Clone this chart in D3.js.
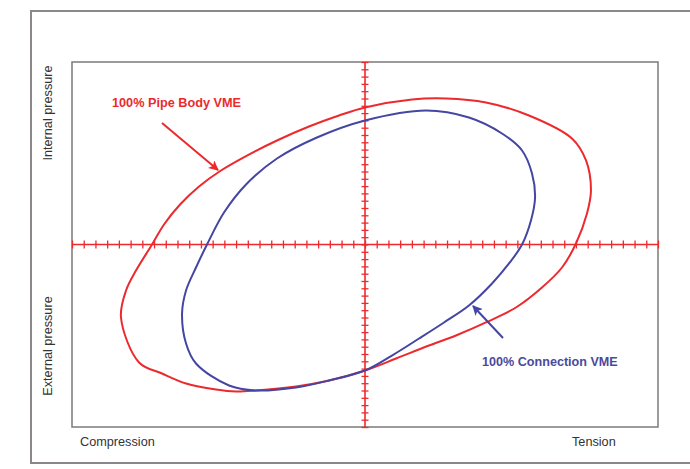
<!DOCTYPE html>
<html>
<head>
<meta charset="utf-8">
<script src="https://cdn.jsdelivr.net/npm/d3@7"></script>
<style>
  body { margin: 0; background: #fff; }
  svg { display: block; font-family: "Liberation Sans", Arial, sans-serif; }
</style>
</head>
<body>
<div id="container"></div>
<script>
// axis range in "units" (one tick = one unit)
const xDomain = [-25, 25];
const yDomain = [-25, 25];

// 100% Pipe Body VME envelope (x = axial load, y = pressure)
const pipeBodyX = [-18.17, -17.15, -15.78, -14.16, -12.29, -10.07, -7.51, -4.78, -2.22, 0, 4.01, 6.91, 10.32, 13.99, 17.66, 18.86, 19.28, 18.94, 18.0, 16.81, 15.1, 12.88, 10.32, 7.76, 5.46, 2.65, 0, -3.07, -5.89, -9.3, -11.01, -12.71, -15.27, -17.32, -19.28, -20.82, -20.39, -19.54];
const pipeBodyY = [0, 2.74, 5.48, 7.95, 10.14, 12.19, 14.25, 16.16, 17.67, 18.77, 19.86, 20.0, 19.45, 17.67, 14.52, 11.51, 7.4, 4.25, 0.14, -3.15, -5.89, -8.63, -10.68, -12.47, -13.84, -15.62, -17.26, -18.63, -19.45, -20.0, -20.14, -19.86, -19.04, -17.67, -16.16, -10.0, -6.3, -3.56];

// 100% Connection VME envelope
const connX = [-13.48, -12.03, -10.15, -7.51, -4.1, 0, 5.2, 8.87, 11.69, 13.4, 14.25, 14.51, 14.16, 13.4, 12.29, 10.84, 8.87, 6.74, 4.61, 2.3, 0, -3.07, -5.89, -9.3, -11.6, -14.42, -15.27, -15.61, -15.27, -14.42];
const connY = [0, 4.38, 8.22, 11.78, 14.66, 16.99, 18.36, 17.4, 15.21, 12.88, 9.73, 6.44, 3.29, 0, -2.6, -5.34, -8.36, -10.68, -12.88, -15.21, -17.26, -18.63, -19.59, -20.0, -19.32, -16.3, -13.56, -9.45, -6.3, -3.15];

const labels = {
  pipe: "100% Pipe Body VME",
  conn: "100% Connection VME",
  internal: "Internal pressure",
  external: "External pressure",
  compression: "Compression",
  tension: "Tension"
};

const W = 690, H = 469;
const box = { left: 72, top: 62, right: 658, bottom: 427 };
const red = "#ec2a2e", blue = "#4545a3";

const svg = d3.select("#container").append("svg")
  .attr("width", W).attr("height", H);

const x = d3.scaleLinear().domain(xDomain).range([box.left, box.right]);
const y = d3.scaleLinear().domain(yDomain).range([box.bottom, box.top]);

// outer page frame
svg.append("path")
  .attr("d", `M${W + 5},11 H31 V463 H${W + 5}`)
  .attr("fill", "none").attr("stroke", "#8c8888").attr("stroke-width", 2);

// plot frame
svg.append("rect")
  .attr("x", box.left).attr("y", box.top)
  .attr("width", box.right - box.left).attr("height", box.bottom - box.top)
  .attr("fill", "#fff").attr("stroke", "#7c7a7a").attr("stroke-width", 1.5);

// axes through origin with ticks on both sides
const xAxis = svg.append("g")
  .attr("transform", `translate(0,${y(0) - 4})`)
  .call(d3.axisBottom(x).ticks(50).tickSize(8).tickFormat(""));
const yAxis = svg.append("g")
  .attr("transform", `translate(${x(0) + 3.5},0)`)
  .call(d3.axisLeft(y).ticks(50).tickSize(7).tickFormat(""));
[xAxis, yAxis].forEach(g => {
  g.select(".domain").remove();
  g.selectAll(".tick line").attr("stroke", red).attr("stroke-width", 1.3);
});

svg.append("line")
  .attr("x1", x(xDomain[0])).attr("x2", x(xDomain[1]))
  .attr("y1", y(0)).attr("y2", y(0))
  .attr("stroke", red).attr("stroke-width", 1.6);
svg.append("line")
  .attr("x1", x(0)).attr("x2", x(0))
  .attr("y1", y(yDomain[0])).attr("y2", y(yDomain[1]))
  .attr("stroke", red).attr("stroke-width", 1.6);

// envelopes
const line = d3.line()
  .x(d => x(d[0]))
  .y(d => y(d[1]))
  .curve(d3.curveCatmullRomClosed.alpha(0.5));

svg.append("path")
  .datum(d3.zip(pipeBodyX, pipeBodyY))
  .attr("d", line)
  .attr("fill", "none").attr("stroke", red).attr("stroke-width", 2);

svg.append("path")
  .datum(d3.zip(connX, connY))
  .attr("d", line)
  .attr("fill", "none").attr("stroke", blue).attr("stroke-width", 2);

// arrow markers
const defs = svg.append("defs");
[["arrowRed", red], ["arrowBlue", blue]].forEach(([id, c]) => {
  defs.append("marker")
    .attr("id", id)
    .attr("viewBox", "0 0 10 10")
    .attr("refX", 9).attr("refY", 5)
    .attr("markerWidth", 5).attr("markerHeight", 5)
    .attr("markerUnits", "strokeWidth")
    .attr("orient", "auto")
    .append("path")
    .attr("d", "M0,0 L10,5 L0,10 L2.5,5 Z")
    .attr("fill", c);
});

svg.append("line")
  .attr("x1", 162).attr("y1", 123).attr("x2", 218).attr("y2", 170)
  .attr("stroke", red).attr("stroke-width", 2)
  .attr("marker-end", "url(#arrowRed)");

svg.append("line")
  .attr("x1", 503).attr("y1", 338).attr("x2", 473).attr("y2", 306)
  .attr("stroke", blue).attr("stroke-width", 2)
  .attr("marker-end", "url(#arrowBlue)");

// annotations
svg.append("text")
  .attr("x", 112).attr("y", 107)
  .attr("fill", red)
  .style("font-size", "12.7px").style("font-weight", "bold")
  .text(labels.pipe);

svg.append("text")
  .attr("x", 482).attr("y", 366)
  .attr("fill", "#4a4a9c")
  .style("font-size", "12.6px").style("font-weight", "bold")
  .text(labels.conn);

// quadrant labels
const axisText = (t, tx, ty, rot, anchor) => svg.append("text")
  .attr("transform", `translate(${tx},${ty}) rotate(${rot})`)
  .attr("text-anchor", anchor)
  .attr("fill", "#333")
  .style("font-size", "12.7px")
  .text(t);

axisText(labels.internal, 52, 113, -90, "middle");
axisText(labels.external, 52, 346, -90, "middle");
axisText(labels.compression, 80, 446, 0, "start");
axisText(labels.tension, 572, 446, 0, "start");
</script>
</body>
</html>
